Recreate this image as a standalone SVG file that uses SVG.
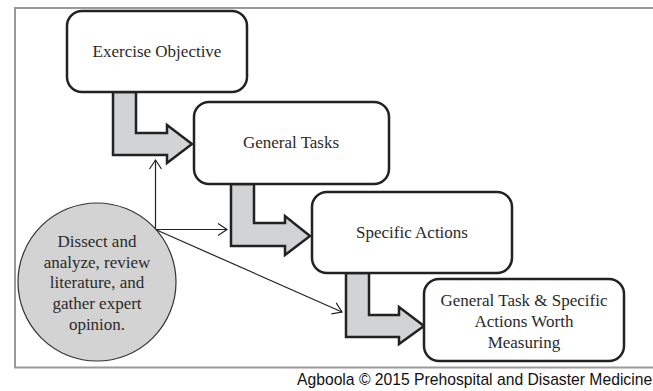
<svg xmlns="http://www.w3.org/2000/svg" width="653" height="391" viewBox="0 0 653 391">
<defs>
<style>
.box{fill:#fff;stroke:#222;stroke-width:2.5}
.blk{fill:#d2d3d5;stroke:#222;stroke-width:2.5;stroke-linejoin:miter}
.lbl{font-family:"Liberation Serif","Times New Roman",serif;font-size:17px;fill:#2a2a2a;text-anchor:middle}
.thin{fill:none;stroke:#222;stroke-width:1.2}
</style>
<marker id="open" markerWidth="12" markerHeight="14" refX="10" refY="7" orient="auto" markerUnits="userSpaceOnUse">
<path d="M1,1 L10,7 L1,13" fill="none" stroke="#222" stroke-width="1.2"/>
</marker>
</defs>
<rect width="653" height="391" fill="#fff"/>
<rect x="15" y="8" width="650" height="359.5" fill="none" stroke="#9a9a9a" stroke-width="2"/>
<text x="297" y="385" font-family="'Liberation Sans',Arial,sans-serif" font-size="15.7" fill="#111">Agboola © 2015 Prehospital and Disaster Medicine</text>
<g id="connectors">
<path class="blk" d="M113,92 L136,92 L136,133 L167,133 L167,125 L192,144 L167,163 L167,155 L113,155 Z"/>
<path class="blk" d="M231,184 L254,184 L254,223 L285,223 L285,216 L310,236 L285,255 L285,246 L231,246 Z"/>
<path class="blk" d="M346,273 L369,273 L369,315 L399,315 L399,307 L424,326 L399,344 L399,337 L346,337 Z"/>
<line class="thin" x1="155.5" y1="230" x2="155.5" y2="160" marker-end="url(#open)"/>
<line class="thin" x1="155.5" y1="229.5" x2="227" y2="229.5" marker-end="url(#open)"/>
<line class="thin" x1="155.5" y1="229.5" x2="342" y2="312" marker-end="url(#open)"/>
</g>
<g id="node-objective">
<rect class="box" x="67" y="11" width="180" height="81" rx="15"/>
<text class="lbl" x="157" y="57">Exercise Objective</text>
</g>
<g id="node-general">
<rect class="box" x="194" y="102" width="195" height="82" rx="15"/>
<text class="lbl" x="291" y="148">General Tasks</text>
</g>
<g id="node-specific">
<rect class="box" x="312" y="192" width="200" height="81" rx="15"/>
<text class="lbl" x="412" y="238">Specific Actions</text>
</g>
<g id="node-worth">
<rect class="box" x="424" y="279" width="200" height="82" rx="15"/>
<text class="lbl" x="524" y="306">General Task &amp; Specific</text>
<text class="lbl" x="524" y="327">Actions Worth</text>
<text class="lbl" x="524" y="348">Measuring</text>
</g>
<g id="node-dissect">
<circle cx="97" cy="282" r="79" fill="#d3d3d3" stroke="#333" stroke-width="1.2"/>
<text class="lbl" x="97" y="247">Dissect and</text>
<text class="lbl" x="97" y="268">analyze, review</text>
<text class="lbl" x="97" y="288">literature, and</text>
<text class="lbl" x="97" y="309">gather expert</text>
<text class="lbl" x="97" y="330">opinion.</text>
</g>
</svg>
